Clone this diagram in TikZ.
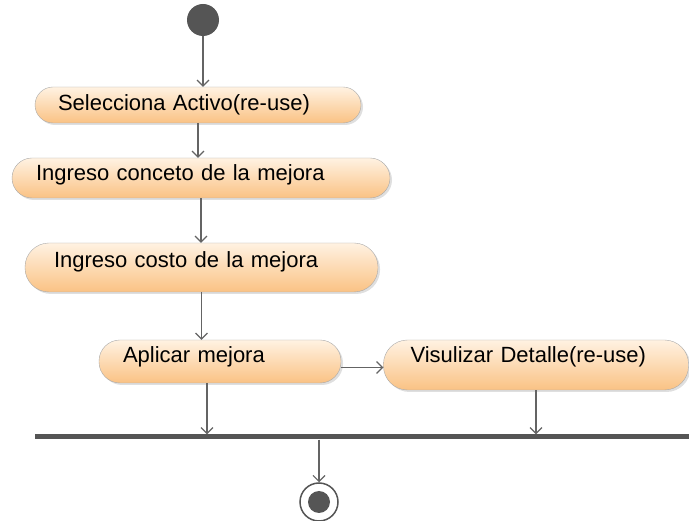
\documentclass[tikz,border=0pt]{standalone}
\usepackage{fontspec}
\setmainfont{Liberation Sans}
\usepackage{tikz}
\usetikzlibrary{arrows.meta,shapes,positioning,shadows}
\usepackage{xcolor}
\definecolor{actline}{RGB}{170,170,170}
\definecolor{acttop}{RGB}{255,242,226}
\definecolor{actbottom}{RGB}{250,194,132}
\definecolor{flowgray}{RGB}{100,100,100}
\definecolor{dotgray}{RGB}{85,85,85}
\tikzstyle{flow} = [line width=1.1pt,->,>={Straight Barb[length=6pt,width=12pt]},color=flowgray]
\tikzstyle{action} = [rectangle, draw=actline, top color=acttop, bottom color=actbottom, drop shadow={shadow xshift=2pt,shadow yshift=-2pt,opacity=0.25}, align=left, text height=16.5pt, inner ysep=0pt, font=\fontsize{22}{26}\selectfont]

\begin{document}
\begin{tikzpicture}[x=1pt, y=1pt]
    \useasboundingbox (0,0) rectangle (689,-521);

    % Start
    \node[circle, fill=dotgray, minimum size=32pt, inner sep=0pt] (start) at (203,-20) {};

    % Actions
    \node[action, rounded corners=18pt, minimum height=36pt, inner xsep=23pt, text width=280pt, text depth=4.5pt] (selecciona) at (198,-105) {Selecciona Activo(re-use)};
    \node[action, rounded corners=20pt, minimum height=40pt, inner xsep=24pt, text width=330pt, text depth=10.5pt] (concepto) at (201,-178) {Ingreso conceto de la mejora};
    \node[action, rounded corners=24pt, minimum height=49pt, inner xsep=29pt, text width=295pt, text depth=15.5pt] (costo) at (201.5,-267.5) {Ingreso costo de la mejora};
    \node[action, rounded corners=21pt, minimum height=43pt, inner xsep=24pt, text width=194pt, text depth=13.5pt] (aplicar) at (220,-361.5) {Aplicar mejora};
    \node[action, rounded corners=24pt, minimum height=50pt, inner xsep=27pt, text width=251pt, text depth=20.5pt] (visualizar) at (536,-365) {Visulizar Detalle(re-use)};

    % Join bar and end
    \node[fill=dotgray, minimum width=654pt, minimum height=5pt, inner sep=0pt] (join) at (362,-437) {};
    \node[circle, draw=dotgray, line width=1.5pt, minimum size=38pt, inner sep=0pt, path picture={\fill[dotgray] (path picture bounding box.center) circle (11pt);}] (final) at (319,-502) {};

    % Arrows
    \draw[flow] (start) -- (start |- selecciona.north);
    \draw[flow] (selecciona.south) -- (selecciona.south |- concepto.north);
    \draw[flow] (concepto) -- (concepto |- costo.north);
    \draw[flow] (costo) -- (costo |- aplicar.north);
    \draw[flow] ([yshift=-6pt]aplicar.east) -- ([yshift=-6pt]aplicar.east -| visualizar.west);
    \draw[flow] ([xshift=-13pt]aplicar.south) -- ([xshift=-13pt]aplicar.south |- join.north);
    \draw[flow] (visualizar) -- (visualizar |- join.north);
    \draw[flow] (final |- join.south) -- (final);
\end{tikzpicture}
\end{document}
